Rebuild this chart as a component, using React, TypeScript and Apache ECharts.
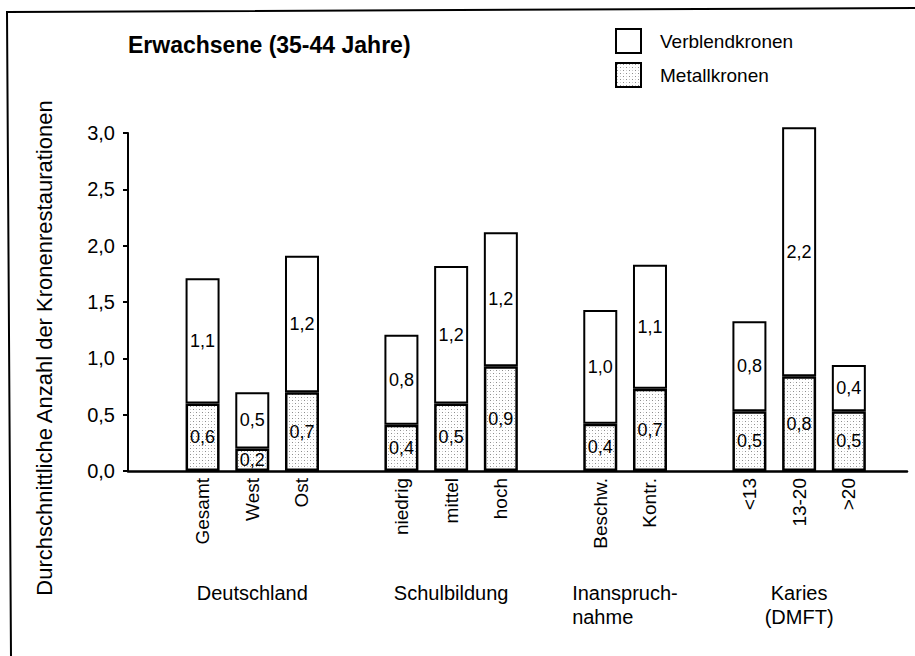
import React, { useEffect, useRef } from "react";
import * as echarts from "echarts";

const title = "Erwachsene (35-44 Jahre)";
const yAxisName = "Durchschnittliche Anzahl der Kronenrestaurationen";
const seriesNames = ["Verblendkronen", "Metallkronen"];

const groupNames = ["Deutschland", "Schulbildung", "Inanspruch-\nnahme", "Karies\n(DMFT)"];
const groupCategories = [
  ["Gesamt", "West", "Ost"],
  ["niedrig", "mittel", "hoch"],
  ["Beschw.", "Kontr."],
  ["<13", "13-20", ">20"],
];

// drawn segment heights
const metallHeights = [0.6, 0.2, 0.7, 0.41, 0.6, 0.93, 0.42, 0.73, 0.53, 0.84, 0.53];
const verblendHeights = [1.11, 0.5, 1.21, 0.8, 1.22, 1.19, 1.01, 1.1, 0.8, 2.21, 0.41];
// printed values
const metallLabels = [0.6, 0.2, 0.7, 0.4, 0.5, 0.9, 0.4, 0.7, 0.5, 0.8, 0.5];
const verblendLabels = [1.1, 0.5, 1.2, 0.8, 1.2, 1.2, 1.0, 1.1, 0.8, 2.2, 0.4];

const yTicks = [0, 0.5, 1.0, 1.5, 2.0, 2.5, 3.0];

const FONT = "'Liberation Sans', Arial, sans-serif";
const INK = "#000";
const fmt = (v: number) => v.toFixed(1).replace(".", ",");

function makeStipple(): HTMLCanvasElement {
  const c = document.createElement("canvas");
  c.width = 6;
  c.height = 6;
  const g = c.getContext("2d")!;
  g.fillStyle = "#fff";
  g.fillRect(0, 0, 6, 6);
  g.fillStyle = "rgba(0,0,0,0.45)";
  g.fillRect(1, 1, 1, 1);
  g.fillRect(4, 4, 1, 1);
  g.fillStyle = "rgba(0,0,0,0.2)";
  g.fillRect(4, 1, 1, 1);
  g.fillRect(1, 4, 1, 1);
  return c;
}

export default function App() {
  const ref = useRef<HTMLDivElement>(null);
  useEffect(() => {
    document.body.style.margin = "0";
    if (!ref.current) return;
    const chart = echarts.init(ref.current, undefined, { renderer: "svg" });

    // slot positions: one empty slot before the first group and between groups
    const catNames: string[] = [];
    const catPos: number[] = [];
    const groupCenters: number[] = [];
    let p = 1;
    groupCategories.forEach((cats) => {
      const start = p;
      cats.forEach((c) => {
        catNames.push(c);
        catPos.push(p);
        p += 1;
      });
      groupCenters.push((start + p - 1) / 2);
      p += 1;
    });

    // value first, position second (so that the value dimension is the stacked one)
    const metallData = catPos.map((x, i) => [metallHeights[i], x]);
    const verblendData = catPos.map((x, i) => [verblendHeights[i], x]);

    const xMin = -0.5;
    const xMax = 15.17;

    const labelStyle = {
      show: true,
      position: "inside",
      fontFamily: FONT,
      fontSize: 18,
      color: INK,
    };

    const stipple = { image: makeStipple(), repeat: "repeat" };

    chart.setOption({
      animation: false,
      backgroundColor: "#fff",
      textStyle: { fontFamily: FONT },
      title: {
        text: title,
        left: 128,
        top: 33,
        padding: 0,
        textStyle: { fontFamily: FONT, fontSize: 23, fontWeight: "bold", color: INK },
      },
      legend: {
        data: seriesNames,
        orient: "vertical",
        left: 615,
        top: 28,
        padding: 0,
        icon: "rect",
        itemWidth: 25,
        itemHeight: 24,
        itemGap: 8,
        selectedMode: false,
        textStyle: { fontFamily: FONT, fontSize: 19, color: INK, padding: [0, 0, 0, 14] },
      },
      grid: { left: 128, right: 8, top: 133, bottom: 185, containLabel: false },
      xAxis: [
        {
          type: "value",
          min: xMin,
          max: xMax,
          axisLine: { show: true, onZero: false, lineStyle: { color: INK, width: 2.5 } },
          axisTick: { show: false },
          splitLine: { show: false },
          axisLabel: {
            customValues: catPos,
            rotate: 90,
            margin: 7,
            fontFamily: FONT,
            fontSize: 19,
            color: INK,
            formatter: (v: number) => {
              const i = catPos.indexOf(v);
              return i >= 0 ? catNames[i] : "";
            },
          },
        },
        {
          type: "value",
          position: "bottom",
          min: xMin,
          max: xMax,
          axisLine: { show: false, onZero: false },
          axisTick: { show: false },
          splitLine: { show: false },
          axisLabel: {
            customValues: groupCenters,
            margin: 110,
            fontFamily: FONT,
            fontSize: 20,
            color: INK,
            lineHeight: 24,
            formatter: (v: number) => {
              const i = groupCenters.indexOf(v);
              if (i < 0) return "";
              const name = groupNames[i];
              if (i === 2) {
                return name
                  .split("\n")
                  .map((s) => "{l|" + s + "}")
                  .join("\n");
              }
              return name;
            },
            rich: {
              l: { width: 106, align: "left", fontSize: 20, fontFamily: FONT, color: INK, lineHeight: 24 },
            },
          },
        },
      ],
      yAxis: {
        type: "value",
        min: 0,
        max: 3,
        interval: 0.5,
        axisLine: { show: true, onZero: false, lineStyle: { color: INK, width: 2 } },
        axisTick: { show: true, length: 5, lineStyle: { color: INK, width: 2 } },
        splitLine: { show: false },
        axisLabel: {
          margin: 13,
          fontFamily: FONT,
          fontSize: 20,
          color: INK,
          formatter: (v: number) => (yTicks.indexOf(v) >= 0 ? fmt(v) : ""),
        },
      },
      series: [
        {
          name: "Metallkronen",
          type: "bar",
          stack: "total",
          barWidth: 34,
          clip: false,
          encode: { x: 1, y: 0 },
          data: metallData,
          itemStyle: { color: stipple, borderColor: INK, borderWidth: 2.5 },
          label: { ...labelStyle, formatter: (pr: any) => fmt(metallLabels[pr.dataIndex]) },
        },
        {
          name: "Verblendkronen",
          type: "bar",
          stack: "total",
          barWidth: 34,
          clip: false,
          encode: { x: 1, y: 0 },
          data: verblendData,
          itemStyle: { color: "#fff", borderColor: INK, borderWidth: 2 },
          label: { ...labelStyle, formatter: (pr: any) => fmt(verblendLabels[pr.dataIndex]) },
        },
      ],
      graphic: [
        {
          type: "polyline",
          shape: { points: [[11, 656], [7, 12], [915, 8]] },
          style: { stroke: INK, lineWidth: 2, fill: "none" },
        },
        {
          type: "text",
          x: 44,
          y: 348,
          rotation: Math.PI / 2,
          style: {
            text: yAxisName,
            font: "22px " + FONT,
            fill: INK,
            align: "center",
            verticalAlign: "middle",
            textAlign: "center",
            textVerticalAlign: "middle",
          },
        },
      ],
    });
    return () => chart.dispose();
  }, []);
  return <div ref={ref} style={{ width: 915, height: 656 }} />;
}
